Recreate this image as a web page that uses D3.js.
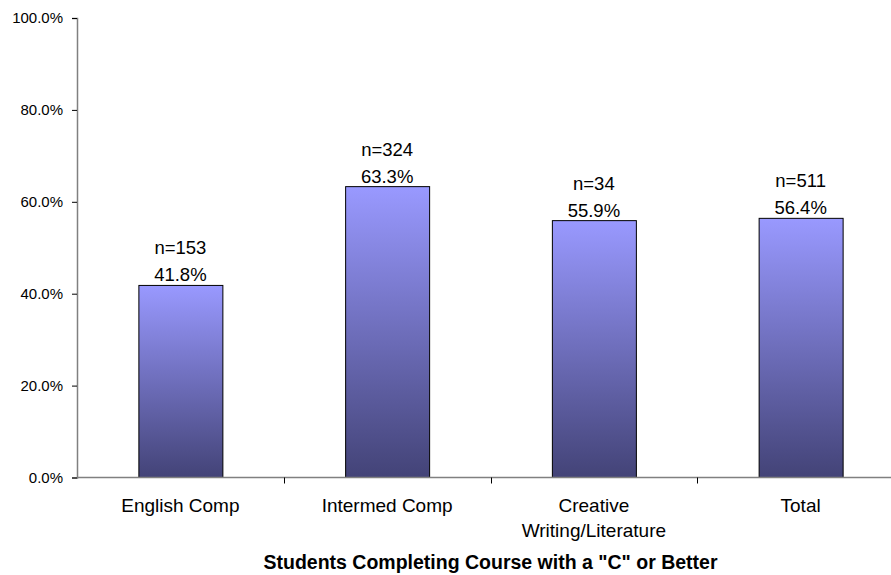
<!DOCTYPE html>
<html><head><meta charset="utf-8">
<script src="https://cdn.jsdelivr.net/npm/d3@7/dist/d3.min.js"></script>
<style>body{margin:0;background:#fff}svg{display:block}text{font-family:"Liberation Sans",Arial,sans-serif}</style>
</head><body>
<svg id="c" width="891" height="575"></svg>
<script>
const categories = ["English Comp", "Intermed Comp", "Creative\nWriting/Literature", "Total"];
const values = [41.8, 63.3, 55.9, 56.4];
const counts = [153, 324, 34, 511];
const yTicks = [0, 20, 40, 60, 80, 100];
const title = 'Students Completing Course with a "C" or Better';

(function () {
const svg = d3.select("#c");
const mLeft = 77, mRight = 904, mTop = 18, mBottom = 477.5;
const x = d3.scaleBand().domain(categories).range([mLeft, mRight]).paddingInner(0).paddingOuter(0);
const y = d3.scaleLinear().domain([0, 100]).range([mBottom, mTop]);

const defs = svg.append("defs");
const g = defs.append("linearGradient").attr("id", "grad").attr("x1", 0).attr("y1", 0).attr("x2", 0).attr("y2", 1);
g.append("stop").attr("offset", "0%").attr("stop-color", "#9999ff");
g.append("stop").attr("offset", "100%").attr("stop-color", "#434377");

// y axis
const yAxis = svg.append("g").attr("transform", `translate(${mLeft},0)`)
  .call(d3.axisLeft(y).tickValues(yTicks).tickSize(5).tickPadding(9).tickFormat(d => d.toFixed(1) + "%"));
yAxis.select(".domain").attr("stroke", "#808080").attr("stroke-width", 1.5);
yAxis.selectAll(".tick line").attr("stroke", "#000");
yAxis.selectAll(".tick text").attr("font-size", 15).attr("fill", "#000")
  .attr("font-family", '"Liberation Sans",Arial,sans-serif');

// bars
const bw = 84;
svg.selectAll("rect.bar").data(values).enter().append("rect")
  .attr("class", "bar")
  .attr("x", (d, i) => x(categories[i]) + x.bandwidth() / 2 - bw / 2 + 0.5)
  .attr("y", d => y(d))
  .attr("width", bw)
  .attr("height", d => mBottom - y(d))
  .attr("fill", "url(#grad)")
  .attr("stroke", "#000").attr("stroke-width", 1);

// x axis
svg.append("line").attr("x1", mLeft).attr("x2", 891).attr("y1", mBottom).attr("y2", mBottom)
  .attr("stroke", "#808080").attr("stroke-width", 1.5);
categories.forEach((c, i) => {
  if (i > 0) {
    const xx = Math.round(x(c)) + 0.5;
    svg.append("line").attr("x1", xx).attr("x2", xx).attr("y1", mBottom).attr("y2", mBottom + 6).attr("stroke", "#000");
  }
  const lines = c.split("\n");
  const t = svg.append("text").attr("text-anchor", "middle").attr("font-size", 19).attr("fill", "#000");
  lines.forEach((ln, k) => {
    t.append("tspan").attr("x", x(c) + x.bandwidth() / 2).attr("y", 512 + k * 25).text(ln);
  });
});

// labels
values.forEach((v, i) => {
  const cx = x(categories[i]) + x.bandwidth() / 2;
  svg.append("text").attr("x", cx).attr("y", y(v) - 4).attr("text-anchor", "middle").attr("font-size", 18.5).text(v.toFixed(1) + "%");
  svg.append("text").attr("x", cx).attr("y", y(v) - 31).attr("text-anchor", "middle").attr("font-size", 18.5).text("n=" + counts[i]);
});

svg.append("text").attr("x", (mLeft + mRight) / 2).attr("y", 569).attr("text-anchor", "middle")
  .attr("font-size", 19.5).attr("font-weight", "bold").text(title);
})();
</script>
</body></html>
